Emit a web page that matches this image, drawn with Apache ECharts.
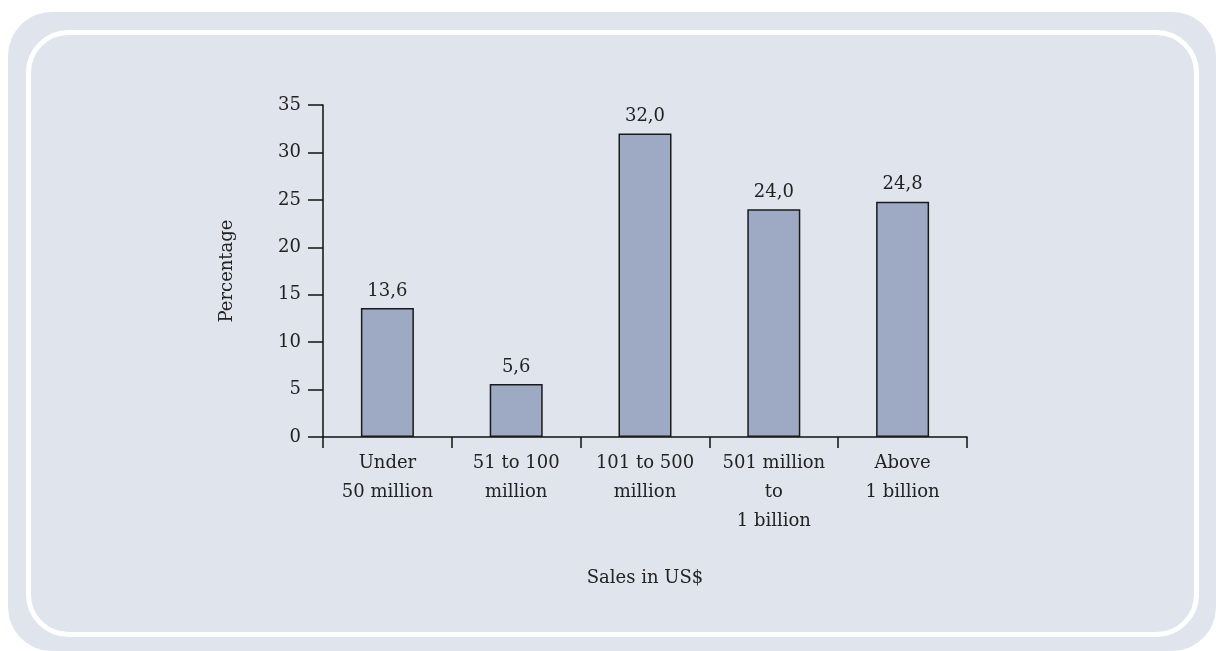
<!DOCTYPE html>
<html>
<head>
<meta charset="utf-8">
<script src="https://cdn.jsdelivr.net/npm/echarts@6/dist/echarts.min.js"></script>
<style>
html,body{margin:0;padding:0;background:#ffffff;}
#chart{width:1216px;height:651px;}
</style>
</head>
<body>
<div id="chart"></div>
<script>
const categories = ["Under\n50 million", "51 to 100\nmillion", "101 to 500\nmillion", "501 million\nto\n1 billion", "Above\n1 billion"];
const percentages = [13.6, 5.6, 32.0, 24.0, 24.8];
const yTicks = [0, 5, 10, 15, 20, 25, 30, 35];
const xTitle = "Sales in US$";
const yTitle = "Percentage";

const FONT = "DejaVu Serif";
const TXT = "#222222";
const FS = 18;
const chart = echarts.init(document.getElementById('chart'), null, {renderer: 'canvas'});
chart.setOption({
  backgroundColor: '#ffffff',
  animation: false,
  graphic: {
    elements: [
      {type: 'rect', z: -100, silent: true, shape: {x: 8, y: 12, width: 1208, height: 639, r: 44}, style: {fill: '#e0e4ed'}},
      {type: 'rect', z: -99, silent: true, shape: {x: 28.5, y: 32.5, width: 1168, height: 602, r: 40}, style: {fill: 'none', stroke: '#ffffff', lineWidth: 5}}
    ]
  },
  grid: {left: 323, right: 249, top: 105, bottom: 214, containLabel: false},
  xAxis: {
    type: 'category',
    data: categories,
    boundaryGap: true,
    name: xTitle,
    nameLocation: 'middle',
    nameGap: 132,
    nameTextStyle: {fontFamily: FONT, fontSize: FS, color: TXT},
    axisLine: {show: true, lineStyle: {color: '#111', width: 1.5}},
    axisTick: {show: true, alignWithLabel: false, length: 11, lineStyle: {color: '#111', width: 1.5}},
    axisLabel: {fontFamily: FONT, fontSize: FS, color: TXT, lineHeight: 29, margin: 12, interval: 0},
    splitLine: {show: false}
  },
  yAxis: {
    type: 'value',
    min: yTicks[0],
    max: yTicks[yTicks.length - 1],
    interval: 5,
    name: yTitle,
    nameLocation: 'middle',
    nameGap: 87,
    nameRotate: 90,
    nameTextStyle: {fontFamily: FONT, fontSize: FS, color: TXT},
    axisLine: {show: true, lineStyle: {color: '#111', width: 1.5}},
    axisTick: {show: true, length: 15, lineStyle: {color: '#111', width: 1.5}},
    axisLabel: {fontFamily: FONT, fontSize: FS, color: TXT, margin: 22},
    splitLine: {show: false}
  },
  series: [{
    type: 'bar',
    data: percentages,
    barWidth: 53,
    itemStyle: {color: '#9eaac4', borderColor: '#1a1a1a', borderWidth: 1.5},
    label: {
      show: true,
      position: 'top',
      distance: 8,
      fontFamily: FONT,
      fontSize: FS,
      color: TXT,
      formatter: p => p.value.toFixed(1).replace('.', ',')
    }
  }]
});
</script>
</body>
</html>
